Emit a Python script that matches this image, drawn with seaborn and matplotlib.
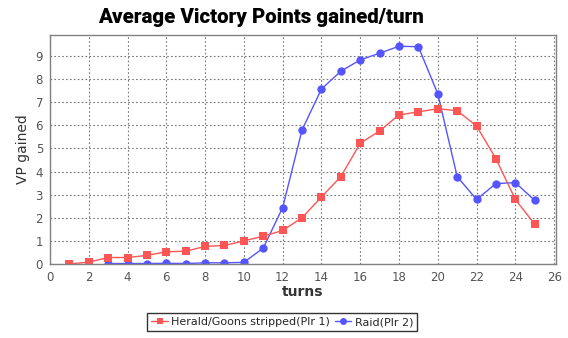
import matplotlib
matplotlib.use("Agg")
import matplotlib.pyplot as plt
import seaborn as sns
import pandas as pd

# Average victory points per turn for each player
turns_p1 = list(range(1, 26))
vp_p1 = [0.0, 0.08, 0.28, 0.28, 0.37, 0.53, 0.55, 0.76, 0.8, 1.0, 1.2, 1.45, 2.0,
         2.9, 3.78, 5.22, 5.76, 6.45, 6.58, 6.72, 6.63, 5.97, 4.55, 2.79, 1.72]
turns_p2 = list(range(3, 26))
vp_p2 = [0.02, 0.02, 0.02, 0.03, 0.02, 0.05, 0.05, 0.07, 0.69, 2.44, 5.8, 7.57,
         8.34, 8.83, 9.12, 9.42, 9.4, 7.36, 3.78, 2.79, 3.48, 3.52, 2.75]
series_names = ["Herald/Goons stripped(Plr 1)", "Raid(Plr 2)"]
x_ticks = list(range(0, 27, 2))
y_ticks = list(range(0, 10))

df = pd.concat([
    pd.DataFrame({"turns": turns_p1, "VP gained": vp_p1, "series": series_names[0]}),
    pd.DataFrame({"turns": turns_p2, "VP gained": vp_p2, "series": series_names[1]}),
], ignore_index=True)

sns.set_style("white")
plt.rcParams["font.family"] = ["DejaVu Sans"]

fig = plt.figure(figsize=(5.68, 3.38), dpi=100)
ax = fig.add_axes([0.088, 0.219, 0.891, 0.677])

palette = {series_names[0]: "#ff5555", series_names[1]: "#5555ff"}
sns.lineplot(data=df, x="turns", y="VP gained", hue="series", style="series",
             markers={series_names[0]: "s", series_names[1]: "o"}, dashes=False,
             palette=palette, hue_order=series_names[::-1], style_order=series_names[::-1],
             linewidth=1, markersize=6, markeredgewidth=0, ax=ax, legend=False)

ax.set_xlim(0, 26.1)
ax.set_ylim(0, 9.9)
ax.set_xticks(x_ticks)
ax.set_yticks(y_ticks)
ax.grid(True, color="#777777", linestyle=(0, (1.5, 2)), linewidth=0.8)
ax.set_axisbelow(True)
for s in ax.spines.values():
    s.set_color("#808080")
    s.set_linewidth(1)
ax.tick_params(axis="both", direction="out", length=3, width=0.8, color="#808080",
               labelsize=8.5, labelcolor="#555555", pad=2)
ax.set_xlabel("turns", fontsize=10, fontweight="bold", color="#333333", labelpad=1)
ax.set_ylabel("VP gained", fontsize=10, color="#333333", labelpad=4)

fig.suptitle("Average Victory Points gained/turn", fontsize=14.8, fontweight="heavy",
             family="Roboto", color="black", y=0.977, x=0.46)

handles = [
    plt.Line2D([], [], color="#ff5555", marker="s", markersize=5, markeredgewidth=0, lw=1),
    plt.Line2D([], [], color="#5555ff", marker="o", markersize=5, markeredgewidth=0, lw=1),
]
leg = fig.legend(handles, series_names, loc="center", bbox_to_anchor=(0.497, 0.047),
                 ncol=2, frameon=True, fontsize=8, handlelength=1.5, handletextpad=0.3,
                 columnspacing=0.4, borderpad=0.35, fancybox=False, edgecolor="black")
leg.get_frame().set_linewidth(1)

fig.savefig("out.png", dpi=100)
